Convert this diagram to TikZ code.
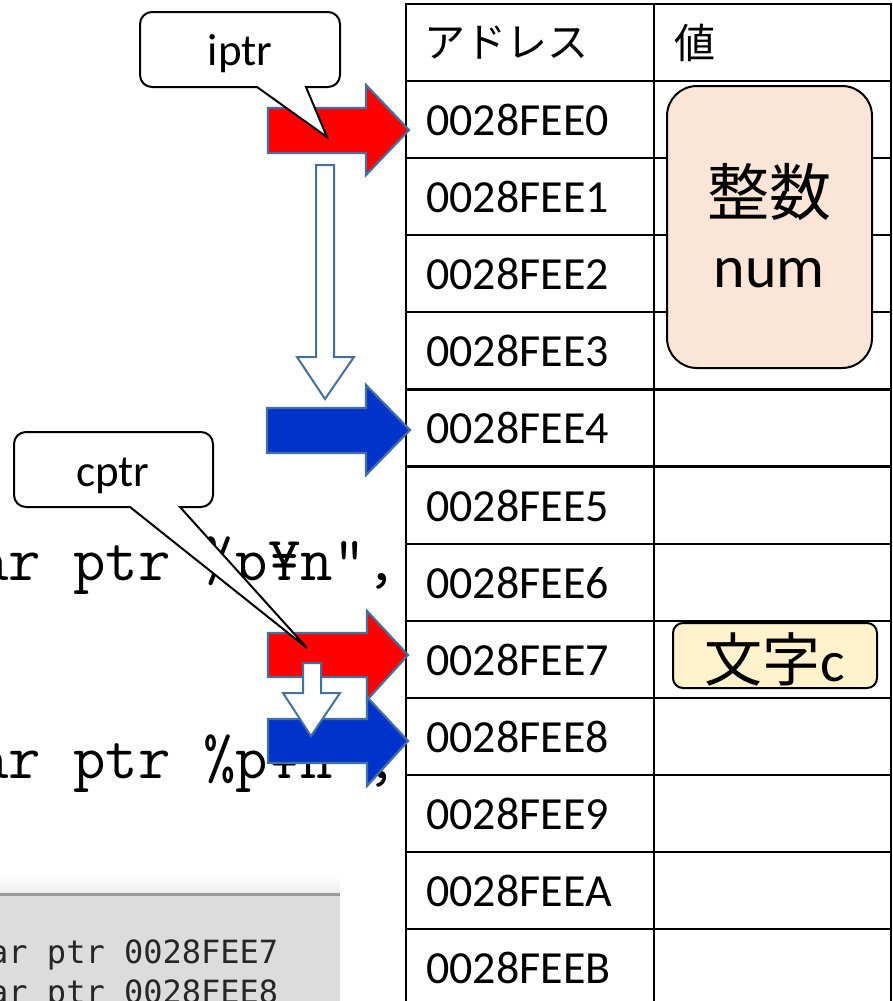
\documentclass[tikz,border=0pt]{standalone}
\usepackage{fontspec}
\setmainfont{Carlito}
\newfontfamily\jpfont{Noto Sans CJK JP}
\newfontfamily\scrfont{DejaVu Sans Mono}
\definecolor{arrowedge}{HTML}{41719C}
\definecolor{redfill}{HTML}{FF0000}
\definecolor{bluefill}{HTML}{0033CC}
\definecolor{peach}{HTML}{FBE5D6}
\definecolor{cream}{HTML}{FFF2CC}
\definecolor{scrgray}{HTML}{DCDCDC}
\definecolor{scredge}{HTML}{9A9A9A}
\tikzset{
  codetext/.style={inner sep=0, anchor=base west, font=\ttfamily\fontsize{63}{66}\selectfont},
  scrtext/.style={inner sep=0, anchor=base west, text=black!85, font=\scrfont\fontsize{32}{36}\selectfont},
  celltext/.style={inner sep=0, anchor=west, font=\fontsize{46}{50}\selectfont},
  headtext/.style={inner sep=0, anchor=west, font=\jpfont\fontsize{41}{46}\selectfont},
  gridline/.style={line width=2.2pt, black},
  blockarrow/.style={draw=arrowedge, line width=2.2pt, line join=miter},
  hollowarrow/.style={draw=arrowedge, fill=white, line width=2pt, line join=miter},
  callout/.style={draw=black, fill=white, line width=2pt},
  callouttext/.style={inner sep=0, anchor=base, font=\fontsize{45}{50}\selectfont},
}
\begin{document}
\begin{tikzpicture}[x=1pt,y=-1pt]
\useasboundingbox (0,0) rectangle (893,1001);
\clip (0,0) rectangle (893,1001);

% code lines (partially hidden)
\node[codetext] (code1) at (-24,580) {ar ptr \%p¥n",};
\node[codetext] (code2) at (-24,778) {ar ptr \%p¥n",};

% console screenshot
\shade[top color=white, bottom color=black!7] (0,876) rectangle (340,893);
\fill[scrgray] (0,893) rectangle (340,1001);
\draw[scredge, line width=3pt] (0,894) -- (340,894);
\node[scrtext] (out1) at (-11,963) {ar ptr 0028FEE7};
\node[scrtext] (out2) at (-11,1003) {ar ptr 0028FEE8};

% memory table
\draw[gridline] (406,4) -- (892,4);
\foreach \i in {0,...,11} {
  \draw[gridline] (406,{81+77.1*\i}) -- (892,{81+77.1*\i});
}
\draw[gridline] (406,3) -- (406,1001);
\draw[gridline] (654,3) -- (654,1001);
\draw[gridline] (891,3) -- (891,1001);
\node[headtext] (hdraddr) at (424,43) {アドレス};
\node[headtext] (hdrval) at (674,43) {値};
\foreach \i/\lab in {0/0,1/1,2/2,3/3,4/4,5/5,6/6,7/7,8/8,9/9,10/A,11/B} {
  \node[celltext] (addr\i) at (426,{81+77.1*\i+39}) {0028FEE\lab};
}

% value boxes
\draw[fill=peach, line width=2pt, rounded corners=30pt] (667,86) rectangle (872,368);
\node[inner sep=0, font=\jpfont\fontsize{62}{66}\selectfont] (numjp) at (769,192) {整数};
\node[inner sep=0, anchor=base, font=\fontsize{60}{64}\selectfont] (numen) at (769,287) {num};
\draw[fill=cream, line width=2pt, rounded corners=10pt] (673,623) rectangle (877,688);
\node[inner sep=0, anchor=base, font=\fontsize{58}{62}\selectfont] (chr) at (775,681) {{\jpfont 文字}c};

% pointer arrows
\fill[redfill, blockarrow] (268,108) -- (366,108) -- (366,85) -- (409,130) -- (366,175) -- (366,153) -- (268,153) -- cycle;
\fill[bluefill, blockarrow] (267,408) -- (366,408) -- (366,385) -- (410,430) -- (366,475) -- (366,453) -- (267,453) -- cycle;
\draw[hollowarrow] (316,165) -- (334,165) -- (334,357) -- (354,357) -- (325,399) -- (297,357) -- (316,357) -- cycle;

\fill[redfill, blockarrow] (268,633) -- (367,633) -- (367,611) -- (408,655) -- (367,700) -- (367,677) -- (268,677) -- cycle;
\fill[bluefill, blockarrow] (268,719) -- (367,719) -- (367,697) -- (408,741) -- (367,786) -- (367,763) -- (268,763) -- cycle;
\draw[hollowarrow] (303,663) -- (321,663) -- (321,693) -- (340,693) -- (311,736) -- (283,693) -- (303,693) -- cycle;

% callouts
\coordinate (iptip) at (327,137);
\draw[callout] (257,87) [rounded corners=12pt] -- (140,87) -- (140,12) -- (340,12) -- (340,87) [sharp corners] -- (306,87) -- (iptip) -- cycle;
\node[callouttext] (iptr) at (240,65) {iptr};

\coordinate (cptip) at (307,648);
\draw[callout] (130,507) [rounded corners=12pt] -- (14,507) -- (14,432) -- (213,432) -- (213,507) [sharp corners] -- (180,507) -- (cptip) -- cycle;
\node[callouttext] (cptr) at (113,486) {cptr};
\end{tikzpicture}
\end{document}
